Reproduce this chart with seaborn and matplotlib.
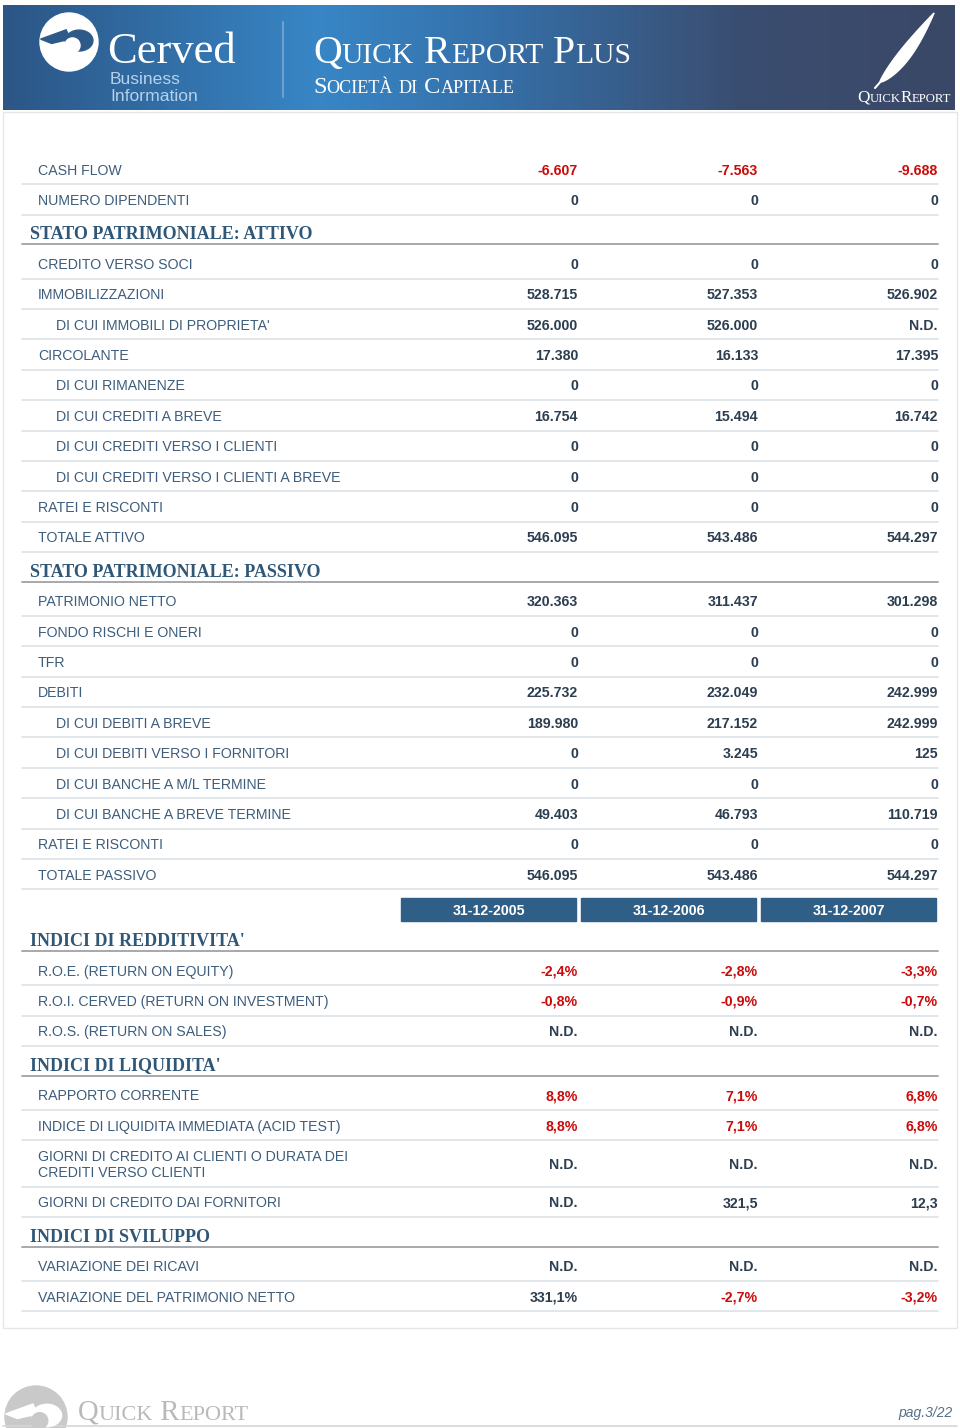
import numpy as np
import matplotlib
matplotlib.use("Agg")
import matplotlib.pyplot as plt
import matplotlib.patches as mpatches
from matplotlib.colors import LinearSegmentedColormap
import seaborn as sns

sns.set_theme(style="white")
plt.rcParams['font.family'] = ['Liberation Sans', 'DejaVu Sans']

# Data
periods = ["31-12-2005", "31-12-2006", "31-12-2007"]

top_labels = ["CASH FLOW", "NUMERO DIPENDENTI"]
top_values = [["-6.607", "-7.563", "-9.688"],
              ["0", "0", "0"]]

attivo_labels = ["CREDITO VERSO SOCI", "IMMOBILIZZAZIONI", "DI CUI IMMOBILI DI PROPRIETA'",
                 "CIRCOLANTE", "DI CUI RIMANENZE", "DI CUI CREDITI A BREVE",
                 "DI CUI CREDITI VERSO I CLIENTI", "DI CUI CREDITI VERSO I CLIENTI A BREVE",
                 "RATEI E RISCONTI", "TOTALE ATTIVO"]
attivo_values = [["0", "0", "0"],
                 ["528.715", "527.353", "526.902"],
                 ["526.000", "526.000", "N.D."],
                 ["17.380", "16.133", "17.395"],
                 ["0", "0", "0"],
                 ["16.754", "15.494", "16.742"],
                 ["0", "0", "0"],
                 ["0", "0", "0"],
                 ["0", "0", "0"],
                 ["546.095", "543.486", "544.297"]]

passivo_labels = ["PATRIMONIO NETTO", "FONDO RISCHI E ONERI", "TFR", "DEBITI",
                  "DI CUI DEBITI A BREVE", "DI CUI DEBITI VERSO I FORNITORI",
                  "DI CUI BANCHE A M/L TERMINE", "DI CUI BANCHE A BREVE TERMINE",
                  "RATEI E RISCONTI", "TOTALE PASSIVO"]
passivo_values = [["320.363", "311.437", "301.298"],
                  ["0", "0", "0"],
                  ["0", "0", "0"],
                  ["225.732", "232.049", "242.999"],
                  ["189.980", "217.152", "242.999"],
                  ["0", "3.245", "125"],
                  ["0", "0", "0"],
                  ["49.403", "46.793", "110.719"],
                  ["0", "0", "0"],
                  ["546.095", "543.486", "544.297"]]

redditivita_labels = ["R.O.E. (RETURN ON EQUITY)", "R.O.I. CERVED (RETURN ON INVESTMENT)",
                      "R.O.S. (RETURN ON SALES)"]
redditivita_values = [["-2,4%", "-2,8%", "-3,3%"],
                      ["-0,8%", "-0,9%", "-0,7%"],
                      ["N.D.", "N.D.", "N.D."]]

liquidita_labels = ["RAPPORTO CORRENTE", "INDICE DI LIQUIDITA IMMEDIATA (ACID TEST)",
                    "GIORNI DI CREDITO AI CLIENTI O DURATA DEI\nCREDITI VERSO CLIENTI",
                    "GIORNI DI CREDITO DAI FORNITORI"]
liquidita_values = [["8,8%", "7,1%", "6,8%"],
                    ["8,8%", "7,1%", "6,8%"],
                    ["N.D.", "N.D.", "N.D."],
                    ["N.D.", "321,5", "12,3"]]

sviluppo_labels = ["VARIAZIONE DEI RICAVI", "VARIAZIONE DEL PATRIMONIO NETTO"]
sviluppo_values = [["N.D.", "N.D.", "N.D."],
                   ["331,1%", "-2,7%", "-3,2%"]]

layout = [
    ("rows", top_labels, top_values),
    ("section", "STATO PATRIMONIALE: ATTIVO"),
    ("rows", attivo_labels, attivo_values),
    ("section", "STATO PATRIMONIALE: PASSIVO"),
    ("rows", passivo_labels, passivo_values),
    ("dates", periods),
    ("section", "INDICI DI REDDITIVITA'"),
    ("rows", redditivita_labels, redditivita_values),
    ("section", "INDICI DI LIQUIDITA'"),
    ("rows", liquidita_labels, liquidita_values),
    ("section", "INDICI DI SVILUPPO"),
    ("rows", sviluppo_labels, sviluppo_values),
]

# Styles
label_col = "#3d5d7c"
value_col = "#2c3e50"
red_col = "#cc0a0a"
section_col = "#2f5777"
bar_col = "#2f5f86"
sep_col = "#e1e6ea"
logo_blue = "#2e5a8a"
col_right = [578, 758, 938]
bar_left = [401, 581, 761]
row_h = 30.38

fig = plt.figure(figsize=(9.6, 14.28), dpi=100)
ax = fig.add_axes([0, 0, 1, 1])
ax.set_xlim(0, 960)
ax.set_ylim(1428, 0)
ax.axis("off")
renderer = fig.canvas.get_renderer()


def small_caps(x, y, text, big, small, **kw):
    runs = []
    for ch in text:
        size = small if ch.islower() else big
        if runs and runs[-1][1] == size:
            runs[-1][0] += ch.upper()
        else:
            runs.append([ch.upper(), size])
    for s, size in runs:
        t = ax.text(x, y, s, fontsize=size, ha="left", va="baseline", **kw)
        x += t.get_window_extent(renderer=renderer).width
    return x


def swirl(cx, cy, r, fg, bg, z=2):
    # disc with a curling cut-out, loosely after the Cerved mark
    ax.add_patch(mpatches.Circle((cx, cy), r, color=fg, zorder=z))
    ax.add_patch(mpatches.Ellipse((cx + 0.35 * r, cy - 0.05 * r), 0.95 * r, 0.72 * r,
                                  color=bg, zorder=z + 1))
    ax.add_patch(mpatches.Polygon([(cx - 0.98 * r, cy - 0.1 * r), (cx - 0.1 * r, cy - 0.42 * r),
                                   (cx + 0.05 * r, cy - 0.1 * r), (cx - 0.6 * r, cy + 0.05 * r)],
                                  color=bg, zorder=z + 1))
    ax.add_patch(mpatches.Circle((cx + 0.12 * r, cy + 0.12 * r), 0.26 * r, color=fg, zorder=z + 2))


# Header band with gradient
grad = LinearSegmentedColormap.from_list(
    "hdr", [(0, "#2c5686"), (0.33, "#3886c6"), (0.5, "#3572ac"),
            (0.78, "#3a4d70"), (1, "#3b4867")])
ax.imshow(np.linspace(0, 1, 400).reshape(1, -1), cmap=grad, aspect="auto",
          extent=(3, 955, 110, 5), zorder=0)

# Cerved logo
swirl(69, 42, 29, "white", logo_blue)
ax.text(107, 63, "Cerved", fontsize=32, color="white", family="Liberation Serif",
        ha="left", va="baseline")
ax.text(110, 84, "Business", fontsize=12.6, color="#b4d2ec", ha="left", va="baseline")
ax.text(110, 101, "Information", fontsize=12.6, color="#b4d2ec", ha="left", va="baseline")
ax.plot([283, 283], [22, 97], color="#6fa0cf", lw=1.5, zorder=2)

small_caps(313, 63, "Quick Report Plus", 28.7, 21.3, color="white", family="Liberation Serif")
small_caps(313, 93, "Società di Capitale", 17.6, 13.1, color="white", family="Liberation Serif")

# Feather
t = np.linspace(0, 1, 60)
base, tip = np.array([880.0, 82.0]), np.array([934.0, 13.0])
d = tip - base
nrm = np.array([-d[1], d[0]]) / np.hypot(*d)
w = 8.5 * np.sin(np.pi * t ** 0.75) ** 0.9
left = base + np.outer(t, d) + np.outer(w, nrm)
right = base + np.outer(t, d) - np.outer(w * 0.4, nrm)
ax.add_patch(mpatches.Polygon(np.vstack([left, right[::-1]]), color="white", zorder=2))
ax.plot([875, 882], [88, 80], color="white", lw=1.5, zorder=2)
small_caps(857, 102, "QuickReport", 12.3, 9.2, color="white", family="Liberation Serif")

# Content box
ax.add_patch(mpatches.Rectangle((3, 112), 954, 1216, fill=False, ec="#e4e6e8", lw=1, zorder=1))

# Table
y = 154
for block in layout:
    kind = block[0]
    if kind == "section":
        ax.text(30, y + 24.5, block[1], fontsize=13, fontweight="bold", color=section_col,
                family="Liberation Serif", ha="left", va="baseline")
        ax.plot([22, 938], [y + 29.5, y + 29.5], color="#a5a9ad", lw=1.4, zorder=2)
        y += 33.5
    elif kind == "dates":
        for xl, p in zip(bar_left, block[1]):
            ax.add_patch(mpatches.Rectangle((xl, y + 9), 175, 23, color=bar_col, zorder=2))
            ax.text(xl + 87.5, y + 25.5, p, fontsize=10.2, fontweight="bold", color="white",
                    ha="center", va="baseline", zorder=3)
        y += 32
    else:
        labels, values = block[1], block[2]
        for lab, vals in zip(labels, values):
            lines = lab.split("\n")
            h = row_h if len(lines) == 1 else 46.5
            cy = y + h / 2
            lx = 56 if lab.startswith("DI CUI") else 38
            for k, ln in enumerate(lines):
                ly = cy + 5.5 + (k - (len(lines) - 1) / 2) * 16
                ax.text(lx, ly, ln, fontsize=10.2, color=label_col, ha="left", va="baseline")
            for xr, v in zip(col_right, vals):
                red = v.startswith("-") or (labels is liquidita_labels and v.endswith("%"))
                ax.text(xr, cy + 5.5, v, fontsize=10.2, fontweight="bold",
                        color=red_col if red else value_col, ha="right", va="baseline")
            y += h
            ax.plot([22, 938], [y, y], color=sep_col, lw=1.4, zorder=1)

# Footer
swirl(36, 1417, 31, "#c9c9c9", "white")
small_caps(78, 1420, "Quick Report", 20.7, 16, color="#b9b9b9", family="Liberation Serif")
ax.text(953, 1417, "pag.3/22", fontsize=10, style="italic", color="#56708a",
        ha="right", va="baseline")
ax.plot([3, 957], [1426, 1426], color="#d6d6d6", lw=1.2)

fig.savefig("out.png", dpi=100)
